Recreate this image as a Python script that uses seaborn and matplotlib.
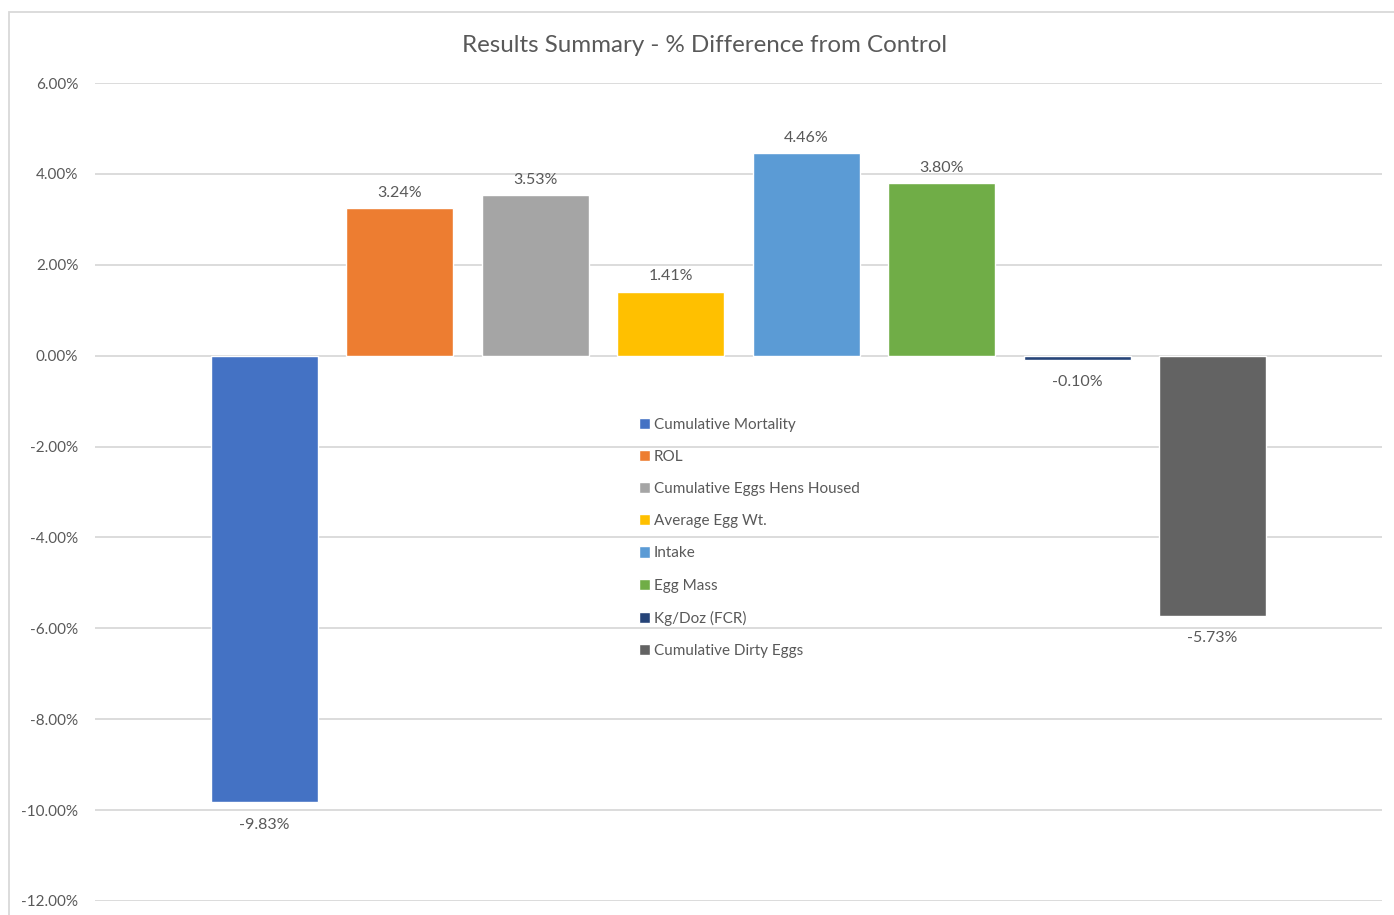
import matplotlib
matplotlib.use("Agg")
import matplotlib.pyplot as plt
from matplotlib.patches import Rectangle
from matplotlib.ticker import FuncFormatter, MultipleLocator
import seaborn as sns
import pandas as pd

# Data
categories = [
    "Cumulative Mortality",
    "ROL",
    "Cumulative Eggs Hens Housed",
    "Average Egg Wt.",
    "Intake",
    "Egg Mass",
    "Kg/Doz (FCR)",
    "Cumulative Dirty Eggs",
]
pct_diff = [-9.83, 3.24, 3.53, 1.41, 4.46, 3.80, -0.10, -5.73]
colors = ["#4472C4", "#ED7D31", "#A5A5A5", "#FFC000",
          "#5B9BD5", "#70AD47", "#264478", "#636363"]

title = "Results Summary - % Difference from Control"

sns.set_theme(style="white")
plt.rcParams["font.family"] = ["Lato", "DejaVu Sans"]
text_color = "#595959"
grid_color = "#D9D9D9"

df = pd.DataFrame({"metric": categories, "value": pct_diff})

W, H = 1394, 915
fig = plt.figure(figsize=(W / 100, H / 100), dpi=100)
ax = fig.add_axes([95 / W, 1 - 901 / H, (1382 - 95) / W, (901 - 83) / H])

sns.barplot(data=df, x="metric", y="value", hue="metric",
            palette=colors, order=categories, hue_order=categories,
            dodge=False, width=0.79, saturation=1, legend=True, ax=ax,
            zorder=3)

ax.set_ylim(-12, 6)
ax.set_xlim(-1.25, 8.25)
ax.yaxis.set_major_locator(MultipleLocator(2))
ax.yaxis.set_major_formatter(FuncFormatter(lambda v, _: f"{v:.2f}%"))
ax.grid(axis="y", color=grid_color, linewidth=1.3, zorder=0)
ax.set_axisbelow(True)
ax.set_xticks([])
ax.set_xlabel("")
ax.set_ylabel("")
for s in ax.spines.values():
    s.set_visible(False)
ax.tick_params(axis="y", length=0, pad=12, labelsize=11, labelcolor=text_color)

# Value labels on each bar
for i, v in enumerate(pct_diff):
    if v >= 0:
        ax.annotate(f"{v:.2f}%", (i, v), xytext=(0, 6), textcoords="offset points",
                    ha="center", va="bottom", fontsize=11.5, color=text_color)
    else:
        ax.annotate(f"{v:.2f}%", (i, v), xytext=(0, -11), textcoords="offset points",
                    ha="center", va="top", fontsize=11.5, color=text_color)

fig.text(705 / W, 1 - 46 / H, title, ha="center", va="center",
         fontsize=17.4, color=text_color)

handles, labels = ax.get_legend_handles_labels()
ax.legend(handles, labels, loc="upper left",
          bbox_to_anchor=(631 / W, 1 - 410 / H), bbox_transform=fig.transFigure,
          frameon=False, fontsize=11, labelcolor=text_color,
          handlelength=0.75, handleheight=0.75, handletextpad=0.25,
          labelspacing=1.19, borderpad=0)

# Chart area border
fig.patches.append(Rectangle((9 / W, -0.2), 1.5, 1.2 - 12 / H,
                             transform=fig.transFigure, fill=False,
                             edgecolor=grid_color, linewidth=1.3))

fig.savefig("out.png", dpi=100, facecolor="white")
